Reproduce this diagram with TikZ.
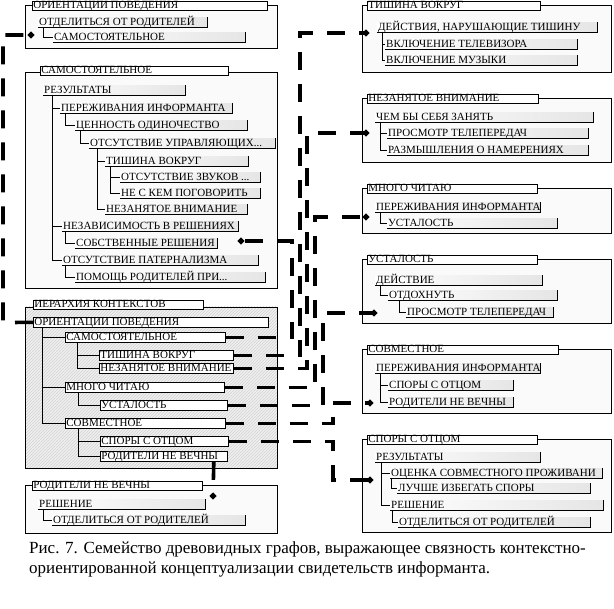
\documentclass[tikz,border=0pt]{standalone}
\usepackage{fontspec}
\setmainfont{Liberation Serif}
\usetikzlibrary{arrows.meta,patterns}
\newcommand\itm[5]{%
  \pgfmathsetmacro\tw{#3-#2-2}%
  \node[itm] (#1) at (#2,#4) {\makebox[\tw pt][l]{#5}};
  \draw[itmline] (#1.south west)--(#1.south east)--(#1.north east);}
\newcommand\ttl[5]{%
  \pgfmathsetmacro\tw{#3-#2-2}%
  \node[ttlbox] (#1) at (#2,#4) {\makebox[\tw pt][l]{#5}};}
\newcommand\hitm[5]{%
  \pgfmathsetmacro\tw{#3-#2-2}%
  \node[hbox] (#1) at (#2,#4) {\makebox[\tw pt][l]{#5}};}
\newcommand\tr[3]{\draw[tree] ([xshift=#3pt]#1.south west) |- (#2.west);}
\begin{document}
\begin{tikzpicture}[x=1pt,y=-1pt,
  lbl/.style={font=\fontsize{11}{11}\selectfont},
  itm/.style={lbl,anchor=south west,inner xsep=1pt,inner ysep=0pt,
    text height=7.8pt,text depth=1.6pt,left color=white,right color=gray!20},
  itmline/.style={line width=0.8pt},
  ttlbox/.style={lbl,draw,fill=white,anchor=north west,inner xsep=1pt,inner ysep=0pt,
    text height=7.6pt,text depth=1.2pt,line width=0.7pt},
  hbox/.style={lbl,draw,fill=white,anchor=north west,inner xsep=1pt,inner ysep=0pt,
    text height=8.2pt,text depth=1.8pt,line width=0.8pt},
  frm/.style={draw,line width=0.7pt,fill=gray!4},
  tree/.style={line width=0.7pt},
  dlink/.style={line width=3.6pt,dash pattern=on 18pt off 14pt,-{Circle[length=6pt,width=6pt]}},
  captxt/.style={font=\fontsize{17}{20}\selectfont,anchor=base west,inner sep=0pt}]
\useasboundingbox (0,0) rectangle (614,609);
\fill[white] (0,0) rectangle (614,609);
% ---------- Box A
\draw[frm] (25,5) rectangle (277,48);
\ttl{tA}{32}{267}{1}{ОРИЕНТАЦИИ ПОВЕДЕНИЯ}
\itm{a1}{38}{207}{27}{ОТДЕЛИТЬСЯ ОТ РОДИТЕЛЕЙ}
\itm{a2}{53}{245}{42}{САМОСТОЯТЕЛЬНОЕ}
\tr{a1}{a2}{5}
% ---------- Box B
\draw[frm] (25,72) rectangle (277,288);
\ttl{tB}{40}{228}{66}{САМОСТОЯТЕЛЬНОЕ}
\itm{b1}{43}{185}{95}{РЕЗУЛЬТАТЫ}
\itm{b2}{60}{232}{113}{ПЕРЕЖИВАНИЯ ИНФОРМАНТА}
\itm{b3}{75}{247}{130}{ЦЕННОСТЬ ОДИНОЧЕСТВО}
\itm{b4}{89}{275}{148}{ОТСУТСТВИЕ УПРАВЛЯЮЩИХ...}
\itm{b5}{105}{248}{166}{ТИШИНА ВОКРУГ}
\itm{b6}{120}{260}{182}{ОТСУТСТВИЕ ЗВУКОВ ...}
\itm{b7}{120}{260}{198}{НЕ С КЕМ ПОГОВОРИТЬ}
\itm{b8}{105}{247}{214}{НЕЗАНЯТОЕ ВНИМАНИЕ}
\itm{b9}{62}{238}{231}{НЕЗАВИСИМОСТЬ В РЕШЕНИЯХ}
\itm{b10}{75}{217}{248}{СОБСТВЕННЫЕ РЕШЕНИЯ}
\itm{b11}{62}{258}{265}{ОТСУТСТВИЕ ПАТЕРНАЛИЗМА}
\itm{b12}{75}{265}{282}{ПОМОЩЬ РОДИТЕЛЕЙ ПРИ...}
\tr{b1}{b2}{9}\tr{b2}{b3}{5}\tr{b3}{b4}{5}\tr{b4}{b5}{8}
\tr{b5}{b6}{5}\tr{b5}{b7}{5}\tr{b4}{b8}{8}\tr{b1}{b9}{9}
\tr{b9}{b10}{3}\tr{b1}{b11}{9}\tr{b11}{b12}{3}
% ---------- Box C (hierarchy)
\fill[gray!12] (25,307) rectangle (277,468);
\fill[pattern=north east lines,pattern color=gray!35] (25,307) rectangle (277,468);
\draw[line width=0.7pt] (25,307) rectangle (277,468);
\ttl{tC}{33}{203}{300}{ИЕРАРХИЯ КОНТЕКСТОВ}
\hitm{h0}{33}{268}{317}{ОРИЕНТАЦИИ ПОВЕДЕНИЯ}
\hitm{h1}{65}{225}{332}{САМОСТОЯТЕЛЬНОЕ}
\hitm{h2}{99}{233}{350}{ТИШИНА ВОКРУГ}
\hitm{h3}{99}{233}{363}{НЕЗАНЯТОЕ ВНИМАНИЕ}
\hitm{h4}{65}{224}{382}{МНОГО ЧИТАЮ}
\hitm{h5}{100}{227}{400}{УСТАЛОСТЬ}
\hitm{h6}{65}{225}{418}{СОВМЕСТНОЕ}
\hitm{h7}{100}{228}{436}{СПОРЫ С ОТЦОМ}
\hitm{h8}{100}{227}{451}{РОДИТЕЛИ НЕ ВЕЧНЫ}
\tr{h0}{h1}{9}\tr{h0}{h4}{9}\tr{h0}{h6}{9}
\tr{h1}{h2}{12}\tr{h1}{h3}{12}\tr{h4}{h5}{13}
\tr{h6}{h7}{13}\tr{h6}{h8}{13}
% ---------- Box D
\draw[frm] (25,485) rectangle (277,533);
\ttl{tD}{32}{202}{481}{РОДИТЕЛИ НЕ ВЕЧНЫ}
\itm{d1}{38}{205}{509}{РЕШЕНИЕ}
\itm{d2}{52}{245}{525}{ОТДЕЛИТЬСЯ ОТ РОДИТЕЛЕЙ}
\tr{d1}{d2}{5}
% ---------- Box E
\draw[frm] (362,5) rectangle (611,72);
\ttl{tE}{367}{540}{1}{ТИШИНА ВОКРУГ}
\itm{e1}{377}{597}{32}{ДЕЙСТВИЯ, НАРУШАЮЩИЕ ТИШИНУ}
\itm{e2}{385}{577}{49}{ВКЛЮЧЕНИЕ ТЕЛЕВИЗОРА}
\itm{e3}{385}{577}{65}{ВКЛЮЧЕНИЕ МУЗЫКИ}
\tr{e1}{e2}{5}\tr{e1}{e3}{5}
% ---------- Box F
\draw[frm] (362,98) rectangle (611,162);
\ttl{tF}{367}{538}{94}{НЕЗАНЯТОЕ ВНИМАНИЕ}
\itm{f1}{375}{593}{122}{ЧЕМ БЫ СЕБЯ ЗАНЯТЬ}
\itm{f2}{387}{588}{138}{ПРОСМОТР ТЕЛЕПЕРЕДАЧ}
\itm{f3}{387}{588}{155}{РАЗМЫШЛЕНИЯ О НАМЕРЕНИЯХ}
\tr{f1}{f2}{5}\tr{f1}{f3}{5}
% ---------- Box G
\draw[frm] (362,188) rectangle (611,233);
\ttl{tG}{367}{537}{184}{МНОГО ЧИТАЮ}
\itm{g1}{375}{540}{212}{ПЕРЕЖИВАНИЯ ИНФОРМАНТА}
\itm{g2}{387}{557}{228}{УСТАЛОСТЬ}
\tr{g1}{g2}{5}
% ---------- Box H
\draw[frm] (362,259) rectangle (611,323);
\ttl{tH}{367}{537}{255}{УСТАЛОСТЬ}
\itm{k1}{375}{542}{285}{ДЕЙСТВИЕ}
\itm{k2}{388}{557}{300}{ОТДОХНУТЬ}
\itm{k3}{406}{553}{317}{ПРОСМОТР ТЕЛЕПЕРЕДАЧ}
\tr{k1}{k2}{5}\tr{k2}{k3}{11}
% ---------- Box I
\draw[frm] (362,349) rectangle (611,413);
\ttl{tI}{367}{558}{345}{СОВМЕСТНОЕ}
\itm{i1}{375}{540}{373}{ПЕРЕЖИВАНИЯ ИНФОРМАНТА}
\itm{i2}{388}{513}{390}{СПОРЫ С ОТЦОМ}
\itm{i3}{388}{513}{407}{РОДИТЕЛИ НЕ ВЕЧНЫ}
\tr{i1}{i2}{5}\tr{i1}{i3}{5}
% ---------- Box J
\draw[frm] (362,439) rectangle (611,532);
\ttl{tJ}{367}{537}{435}{СПОРЫ С ОТЦОМ}
\itm{j1}{375}{540}{462}{РЕЗУЛЬТАТЫ}
\itm{j2}{390}{602}{478}{ОЦЕНКА СОВМЕСТНОГО ПРОЖИВАНИ}
\itm{j3}{397}{590}{493}{ЛУЧШЕ ИЗБЕГАТЬ СПОРЫ}
\itm{j4}{390}{603}{510}{РЕШЕНИЕ}
\itm{j5}{398}{590}{527}{ОТДЕЛИТЬСЯ ОТ РОДИТЕЛЕЙ}
\tr{j1}{j2}{6}\tr{j2}{j3}{1}\tr{j1}{j4}{6}\tr{j4}{j5}{2}
% ---------- dashed links
\coordinate (eA) at (34,35);
\coordinate (eB) at (238,241);
\coordinate (eE) at (369,33);
\coordinate (eF) at (369,133);
\coordinate (eG) at (369,217);
\coordinate (eH) at (377,313);
\coordinate (eI) at (373,403);
\coordinate (eJ) at (373,480);
\coordinate (eD) at (213,499);
\draw[dlink] (h0.west) -- (3,322.5) |- (eA);
\draw[dlink] (h1.east) -| (292,241) -- (eB);
\draw[dlink] (h2.east) -| (300,33) -- (eE);
\draw[dlink] (h3.east) -| (307,133) -- (eF);
\draw[dlink] (h4.east) -| (315,217) -- (eG);
\draw[dlink] (h5.east) -| (323,313) -- (eH);
\draw[dlink] (h6.east) -| (333,403) -- (eI);
\draw[dlink] (h7.east) -| (333,480) -- (eJ);
\draw[dlink] ([xshift=-14pt]h8.south east) -- (eD);
% ---------- caption
\node[captxt] (c1) at (29,554) {Рис. 7. Семейство древовидных графов, выражающее связность контекстно-};
\node[captxt] (c2) at (29,574) {ориентированной концептуализации свидетельств информанта.};
\end{tikzpicture}
\end{document}
